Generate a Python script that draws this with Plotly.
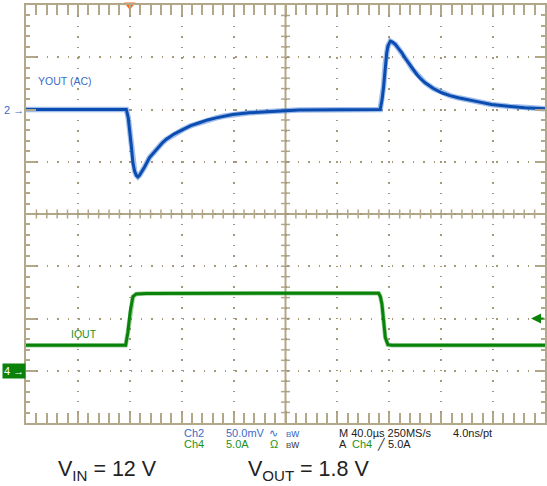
import plotly.graph_objects as go

# ---- waveform data (time in µs, relative to the trigger) ----
# Ch2: output voltage, AC coupled, mV
ch2_t = [-80, -2.7, -1.2, -0.1, 1.2, 2.4, 3.7, 5.0, 6.2, 7.5, 8.8, 11.4, 15.2, 18.5,
         21.7, 25, 28, 34, 40.8, 47, 53.6, 60, 66.6, 73, 79.2, 92, 104.8, 117.7,
         130.4, 193.0, 194.5, 195.6, 196.9, 198.0, 198.9, 200.8, 202.5, 204.6, 207,
         209.7, 212, 214.8, 218, 221.2, 224.5, 227.6, 234, 240.4, 246.8, 253.2, 266,
         278.8, 291.6, 304.4, 320]
ch2_mv = [0, 0, -8, -19, -35, -51, -59, -63, -64.5, -63, -60.7, -55, -46, -41,
          -36.7, -32, -28.7, -23.5, -19.2, -15.5, -12.7, -10, -8, -6.2, -4.8, -3.2, -2.2, -1,
          -0.5, 0, 10, 22, 44, 54, 60.6, 65.4, 64.5, 62.3, 58.5,
          54.3, 49.5, 44.7, 38.5, 33.5, 29, 25.6, 20.1, 16, 13.3, 11.2, 8,
          4.8, 3.2, 1.6, 0.7]

# Ch4: output current, A
ch4_t = [-80, -3.2, -1.5, 0.4, 2.4, 5.0, 12.7, 191.8, 193.1, 194.3, 195.6, 196.9, 198.9, 202, 320]
ch4_a = [2.45, 2.45, 3.67, 5.75, 7.09, 7.35, 7.4, 7.42, 7.1, 6.39, 4.79, 3.19, 2.5, 2.44, 2.44]

# ---- scope settings ----
t_range = [-80, 320]      # 10 div x 40 µs
t_div = 40
ch2_range = [-300, 100]   # 8 div x 50 mV
ch2_div = 50
ch4_range = [-5, 35]      # 8 div x 5 A
trigger_time = 0
trigger_level = 5.0
minor_per_div = 5

W, H = 547, 486
L, R, T, B = 26, 0, 5, 63
TAN = "#b3a78a"
BLUE = "#0b4cb0"
BLUE_TXT = "#3a6cc8"
GREEN = "#0a820a"
GREEN_TXT = "#1d921d"
FONT = "Liberation Sans, Arial, sans-serif"


def px(xp):
    return (xp - L) / (W - L - R)


def py(yp):
    return (H - B - yp) / (H - B - T)


fig = go.Figure()

fig.add_trace(go.Scatter(x=ch2_t, y=ch2_mv, mode="lines", yaxis="y",
                         line=dict(color="rgba(70,125,215,0.5)", width=5.5),
                         hoverinfo="skip", showlegend=False))
fig.add_trace(go.Scatter(x=ch2_t, y=ch2_mv, mode="lines", yaxis="y",
                         line=dict(color=BLUE, width=3), showlegend=False))
fig.add_trace(go.Scatter(x=ch4_t, y=ch4_a, mode="lines", yaxis="y2",
                         line=dict(color="rgba(40,150,40,0.45)", width=4.5),
                         hoverinfo="skip", showlegend=False))
fig.add_trace(go.Scatter(x=ch4_t, y=ch4_a, mode="lines", yaxis="y2",
                         line=dict(color=GREEN, width=3), showlegend=False))

# trigger position marker
fig.add_trace(go.Scatter(x=[trigger_time], y=[ch2_range[1]], mode="markers", yaxis="y",
                         marker=dict(symbol="triangle-down", size=10, color="#ff6a1f"),
                         cliponaxis=False, showlegend=False))

frame = dict(showline=True, linecolor=TAN, linewidth=1.5, mirror="allticks",
             ticks="inside", ticklen=10, tickwidth=1.5, tickcolor=TAN,
             showticklabels=False, zeroline=False, showgrid=True,
             gridcolor="#a6987a", gridwidth=1.5)

fig.update_layout(
    width=W, height=H, margin=dict(l=L, r=R, t=T, b=B),
    paper_bgcolor="white", plot_bgcolor="white",
    font=dict(family=FONT),
    xaxis=dict(range=t_range, dtick=t_div, tick0=t_range[0], griddash="1.5px,8.92px",
               minor=dict(dtick=t_div / minor_per_div, tick0=t_range[0], ticks="inside",
                          ticklen=4.5, tickwidth=1.5, tickcolor=TAN, showgrid=False),
               **frame),
    yaxis=dict(range=ch2_range, dtick=ch2_div, tick0=ch2_range[0], griddash="1.5px,8.95px",
               minor=dict(dtick=ch2_div / minor_per_div, tick0=ch2_range[0], ticks="inside",
                          ticklen=4.5, tickwidth=1.5, tickcolor=TAN, showgrid=False),
               **frame),
    yaxis2=dict(range=ch4_range, overlaying="y", visible=False),
)

# centre graticule cross with its minor ticks
t_mid = (t_range[0] + t_range[1]) / 2
v_mid = (ch2_range[0] + ch2_range[1]) / 2
shapes = [
    dict(type="line", xref="x", yref="paper", x0=t_mid, x1=t_mid, y0=0, y1=1,
         line=dict(color=TAN, width=2), layer="below"),
    dict(type="line", xref="paper", yref="y", x0=0, x1=1, y0=v_mid, y1=v_mid,
         line=dict(color=TAN, width=2), layer="below"),
]
t_step = t_div / minor_per_div
n_t = int(round((t_range[1] - t_range[0]) / t_step))
for i in range(1, n_t):
    tv = t_range[0] + i * t_step
    shapes.append(dict(type="line", xref="x", yref="y", ysizemode="pixel", yanchor=v_mid,
                       x0=tv, x1=tv, y0=-4.5, y1=4.5,
                       line=dict(color=TAN, width=1.5), layer="below"))
v_step = ch2_div / minor_per_div
n_v = int(round((ch2_range[1] - ch2_range[0]) / v_step))
for i in range(1, n_v):
    vv = ch2_range[0] + i * v_step
    shapes.append(dict(type="line", xref="x", yref="y", xsizemode="pixel", xanchor=t_mid,
                       x0=-4.5, x1=4.5, y0=vv, y1=vv,
                       line=dict(color=TAN, width=1.5), layer="below"))
fig.update_layout(shapes=shapes)

ann = []


def text(s, xp, yp, color="#222222", size=11, xanchor="left", **kw):
    ann.append(dict(text=s, x=px(xp), y=py(yp), xref="paper", yref="paper",
                    xanchor=xanchor, yanchor="middle", showarrow=False,
                    font=dict(family=FONT, size=size, color=color), **kw))


# channel labels
ann.append(dict(text="YOUT (AC)", x=-72, y=27, xref="x", yref="y", xanchor="left",
                yanchor="middle", showarrow=False, font=dict(size=10.5, color=BLUE_TXT)))
ann.append(dict(text="IOUT", x=-47, y=3.55, xref="x", yref="y2", xanchor="left",
                yanchor="middle", showarrow=False, font=dict(size=10.5, color=GREEN_TXT)))

# channel reference markers on the left edge
ann.append(dict(text="2 \u2192", x=0, y=0, xref="paper", yref="y", xanchor="right",
                yanchor="middle", showarrow=False, font=dict(size=11, color=BLUE_TXT)))
ann.append(dict(text="4 \u2192", x=0, y=0, xref="paper", yref="y2", xanchor="right",
                yanchor="middle", showarrow=False, bgcolor=GREEN, borderpad=1,
                font=dict(size=11, color="white")))

# trigger level marker on the right edge
ann.append(dict(text="", x=px(533), y=trigger_level, xref="paper", yref="y2",
                ax=14, ay=0, showarrow=True, arrowhead=2, arrowsize=1,
                arrowwidth=2, arrowcolor=GREEN))

# readout rows
text("Ch2", 183, 432.7, BLUE_TXT)
text("50.0mV", 225, 432.7, BLUE_TXT)
text("\u223f", 268, 432.7, BLUE_TXT)
text("<span style='font-size:8px'>B</span>w", 285, 432.7, BLUE_TXT)
text("M 40.0\u00b5s 250MS/s", 338, 432.7)
text("4.0ns/pt", 453, 432.7)
text("Ch4", 183, 444.3, GREEN_TXT)
text("5.0A", 225, 444.3, GREEN_TXT)
text("\u03a9", 269, 444.3, GREEN_TXT)
text("<span style='font-size:8px'>B</span>w", 285, 444.3, "#444444")
text("A", 338, 444.3)
text("Ch4", 351, 444.3, GREEN_TXT)
text("\u2571", 376, 444.3)
text("5.0A", 387, 444.3)

# operating conditions
text("V<sub>IN</sub> = 12 V", 56, 470, size=21.5)
text("V<sub>OUT</sub> = 1.8 V", 247, 470, size=21.5)

fig.update_layout(annotations=ann)

fig.write_html("out.html")
